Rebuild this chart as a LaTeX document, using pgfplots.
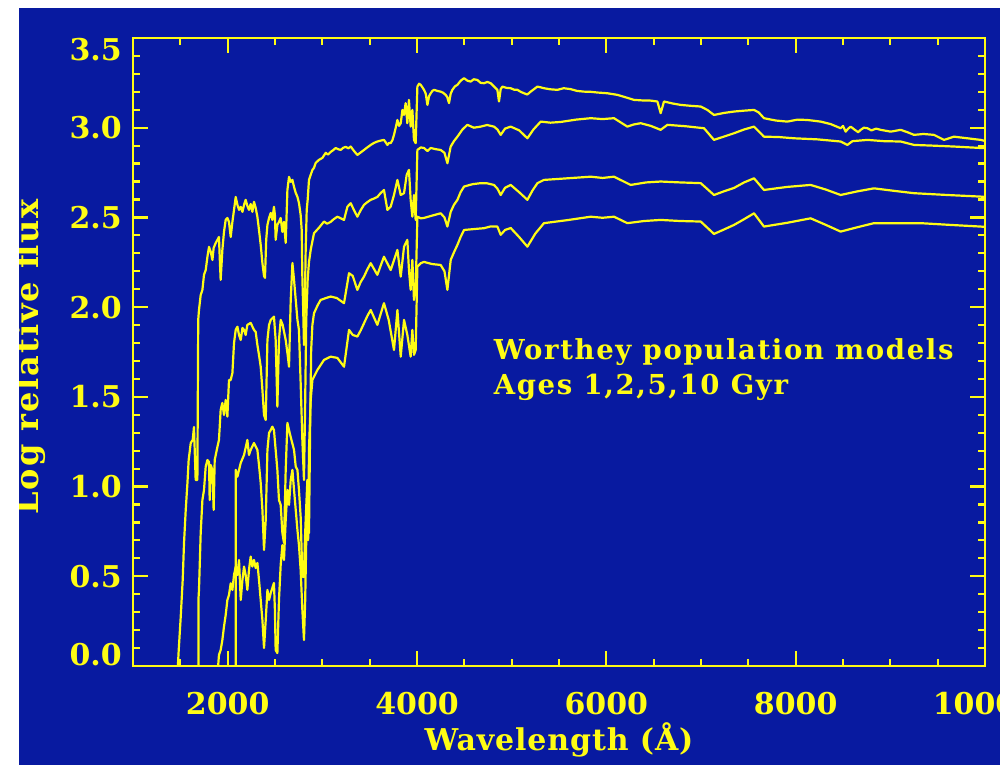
\documentclass[border=0pt]{standalone}
\usepackage{fontspec}
\setmainfont{DejaVu Serif}
\newfontfamily\spfont{DejaVu Serif}[LetterSpace=6]
\newfontfamily\ylfont{DejaVu Serif}[LetterSpace=6]
\newfontfamily\xlfont{DejaVu Serif}[LetterSpace=3]
\usepackage{pgfplots}
\pgfplotsset{compat=1.18}
\definecolor{bgblue}{RGB}{8,26,160}
\definecolor{ylw}{RGB}{255,252,20}
\newcommand\tfont{\bfseries\fontsize{30bp}{36bp}\selectfont}

\begin{document}
\begin{tikzpicture}[x=1bp,y=1bp]
\fill[white] (0,0) rectangle (1005,765);
\fill[bgblue] (19,0) rectangle (1000,757);
\begin{axis}[
  at={(133bp,99bp)}, anchor=south west,
  scale only axis, width=852bp, height=628bp,
  xmin=1000, xmax=10000, ymin=0, ymax=3.5,
  scaled x ticks=false, scaled y ticks=false,
  axis line style={ylw, line width=2.8bp},
  tick style={ylw, line width=2.2bp},
  major tick length=15bp, minor tick length=7bp,
  xtick={2000,4000,6000,8000,10000},
  xticklabels={2000,4000,6000,8000,\makebox[0pt]{10000}},
  minor xtick={1500,2500,3000,3500,4500,5000,5500,6500,7000,7500,8500,9000,9500},
  ytick={0,0.5,1,1.5,2,2.5,3,3.5},
  yticklabels={,0.5,1.0,1.5,2.0,2.5,3.0,},
  minor ytick={0.1,0.2,0.3,0.4,0.6,0.7,0.8,0.9,1.1,1.2,1.3,1.4,1.6,1.7,1.8,1.9,2.1,2.2,2.3,2.4,2.6,2.7,2.8,2.9,3.1,3.2,3.3,3.4},
  xticklabel style={font=\tfont, text=ylw, anchor=north, inner sep=0pt, yshift=-26bp},
  yticklabel style={font=\tfont, text=ylw, anchor=east, inner sep=0pt, xshift=-11bp},
  xlabel={Wavelength (Å)},
  ylabel={Log relative flux},
  xlabel style={font=\xlfont\tfont, text=ylw, at={(axis description cs:0.5,-0.134)}, anchor=base, inner sep=0pt},
  ylabel style={font=\ylfont\bfseries\fontsize{32bp}{38bp}\selectfont, text=ylw, at={(axis description cs:-0.1115,0.492)}, anchor=base, inner sep=0pt},
  clip mode=individual,
]
% 1 Gyr
\addplot[ylw, line width=2.2bp, line join=round] coordinates {
(1469,-0.05)(1483,0.089)(1504,0.273)(1525,0.480)(1539,0.686)(1557,0.870)(1575,1.020)(1588,1.148)(1610,1.243)(1631,1.260)(1644,1.332)(1662,1.037)(1680,1.037)(1689,1.929)(1697,1.984)(1715,2.068)(1733,2.096)(1750,2.180)(1768,2.207)(1789,2.291)(1803,2.336)(1821,2.308)(1839,2.263)(1852,2.330)(1874,2.358)(1892,2.375)(1908,2.391)(1918,2.252)(1926,2.152)(1944,2.319)(1961,2.419)(1979,2.486)(1997,2.497)(2014,2.475)(2032,2.391)(2050,2.475)(2067,2.542)(2085,2.614)(2103,2.570)(2120,2.542)(2138,2.559)(2156,2.531)(2173,2.570)(2190,2.598)(2208,2.564)(2225,2.542)(2243,2.575)(2261,2.531)(2278,2.587)(2296,2.553)(2314,2.503)(2331,2.430)(2349,2.347)(2367,2.246)(2384,2.174)(2394,2.163)(2407,2.375)(2420,2.458)(2437,2.497)(2455,2.525)(2472,2.486)(2489,2.559)(2499,2.514)(2507,2.375)(2525,2.458)(2542,2.475)(2560,2.497)(2578,2.419)(2595,2.475)(2613,2.358)(2631,2.653)(2648,2.726)(2666,2.698)(2684,2.709)(2701,2.670)(2719,2.637)(2737,2.614)(2753,2.581)(2771,2.514)(2782,2.430)(2789,2.168)(2798,1.984)(2806,1.789)(2816,2.040)(2824,2.319)(2835,2.542)(2845,2.598)(2859,2.709)(2877,2.737)(2895,2.765)(2912,2.776)(2930,2.804)(2965,2.821)(3001,2.832)(3036,2.860)(3060,2.850)(3088,2.865)(3115,2.875)(3141,2.887)(3168,2.880)(3194,2.876)(3220,2.888)(3247,2.893)(3275,2.885)(3300,2.895)(3335,2.870)(3370,2.848)(3405,2.862)(3440,2.876)(3475,2.890)(3511,2.904)(3545,2.915)(3581,2.923)(3615,2.928)(3651,2.932)(3670,2.918)(3687,2.904)(3705,2.915)(3722,2.914)(3740,2.930)(3757,2.960)(3775,3.000)(3793,3.043)(3810,3.010)(3828,3.025)(3846,3.099)(3863,3.071)(3880,3.137)(3898,3.025)(3915,3.155)(3933,3.006)(3951,3.099)(3968,2.932)(3986,2.914)(4004,3.229)(4022,3.245)(4039,3.239)(4057,3.225)(4074,3.211)(4092,3.190)(4110,3.127)(4127,3.175)(4145,3.192)(4162,3.205)(4180,3.211)(4215,3.205)(4250,3.201)(4275,3.195)(4303,3.183)(4320,3.170)(4338,3.137)(4356,3.190)(4374,3.211)(4400,3.230)(4427,3.239)(4462,3.262)(4497,3.276)(4532,3.262)(4567,3.257)(4600,3.270)(4638,3.266)(4672,3.250)(4708,3.248)(4743,3.255)(4778,3.248)(4813,3.230)(4849,3.211)(4866,3.146)(4884,3.215)(4902,3.229)(4945,3.222)(4990,3.220)(5025,3.212)(5061,3.211)(5095,3.200)(5130,3.192)(5165,3.185)(5201,3.201)(5236,3.215)(5272,3.229)(5306,3.225)(5341,3.220)(5410,3.214)(5483,3.211)(5550,3.220)(5623,3.215)(5690,3.205)(5764,3.201)(5835,3.200)(5906,3.196)(6010,3.192)(6117,3.183)(6200,3.170)(6292,3.155)(6380,3.152)(6468,3.151)(6539,3.146)(6574,3.081)(6609,3.146)(6700,3.135)(6785,3.127)(6890,3.122)(6997,3.118)(7067,3.099)(7137,3.071)(7240,3.082)(7348,3.090)(7455,3.095)(7560,3.099)(7610,3.085)(7665,3.053)(7790,3.040)(7912,3.034)(8020,3.045)(8124,3.043)(8264,3.034)(8370,3.020)(8475,2.997)(8500,3.010)(8528,2.978)(8555,2.995)(8581,3.006)(8620,2.990)(8660,2.975)(8687,2.988)(8720,3.000)(8758,2.997)(8800,2.985)(8850,2.995)(8898,2.988)(9004,2.978)(9109,2.988)(9180,2.975)(9250,2.960)(9350,2.965)(9461,2.960)(9567,2.932)(9672,2.950)(9814,2.941)(9954,2.932)(10000,2.926)
};
% 2 Gyr
\addplot[ylw, line width=2.2bp, line join=round] coordinates {
(1691,-0.05)(1691,0.368)(1697,0.424)(1715,0.741)(1733,0.925)(1750,0.981)(1768,1.111)(1786,1.148)(1803,1.137)(1810,0.925)(1821,1.120)(1839,1.092)(1852,0.870)(1863,1.148)(1892,1.222)(1908,1.260)(1926,1.427)(1944,1.466)(1961,1.399)(1979,1.483)(1997,1.390)(2014,1.594)(2032,1.594)(2050,1.633)(2067,1.800)(2085,1.873)(2103,1.891)(2120,1.845)(2138,1.817)(2156,1.884)(2173,1.873)(2190,1.845)(2208,1.901)(2243,1.912)(2278,1.873)(2296,1.862)(2314,1.789)(2331,1.733)(2349,1.668)(2367,1.539)(2384,1.399)(2402,1.371)(2420,1.817)(2437,1.901)(2455,1.929)(2489,1.947)(2507,1.817)(2525,1.445)(2542,1.817)(2560,1.929)(2581,1.901)(2613,1.817)(2634,1.733)(2648,1.668)(2666,2.040)(2684,2.246)(2701,2.152)(2719,2.040)(2737,1.929)(2753,1.873)(2771,1.577)(2789,1.260)(2806,1.037)(2819,1.483)(2830,1.929)(2845,2.152)(2859,2.252)(2877,2.319)(2912,2.412)(2962,2.441)(3018,2.477)(3050,2.465)(3088,2.475)(3120,2.490)(3159,2.504)(3195,2.495)(3229,2.486)(3265,2.560)(3300,2.579)(3335,2.540)(3370,2.504)(3405,2.540)(3440,2.570)(3475,2.585)(3511,2.598)(3545,2.605)(3581,2.614)(3615,2.635)(3651,2.653)(3687,2.542)(3722,2.560)(3757,2.625)(3793,2.709)(3828,2.625)(3863,2.635)(3891,2.737)(3915,2.765)(3933,2.598)(3951,2.504)(3968,2.625)(3986,2.486)(4004,2.876)(4040,2.890)(4074,2.887)(4110,2.870)(4145,2.887)(4200,2.880)(4250,2.876)(4290,2.860)(4321,2.802)(4356,2.895)(4390,2.925)(4427,2.950)(4480,2.990)(4532,3.016)(4600,3.000)(4673,3.006)(4740,3.015)(4813,3.006)(4850,2.990)(4884,2.960)(4930,2.995)(4990,3.006)(5080,2.985)(5166,2.941)(5230,2.990)(5307,3.034)(5410,3.028)(5518,3.032)(5680,3.045)(5835,3.053)(5960,3.048)(6081,3.053)(6222,3.006)(6290,3.018)(6363,3.025)(6470,3.010)(6574,2.988)(6645,3.016)(6840,3.008)(7032,2.997)(7137,2.932)(7240,2.950)(7348,2.969)(7455,2.990)(7560,3.006)(7665,2.950)(7820,2.948)(7982,2.941)(8230,2.935)(8475,2.923)(8546,2.904)(8600,2.925)(8758,2.932)(8930,2.925)(9109,2.923)(9250,2.904)(9450,2.900)(9672,2.895)(9954,2.887)(10000,2.887)
};
% 5 Gyr
\addplot[ylw, line width=2.2bp, line join=round] coordinates {
(2085,-0.05)(2085,1.093)(2103,1.055)(2138,1.132)(2173,1.176)(2208,1.260)(2225,1.176)(2243,1.204)(2278,1.243)(2314,1.204)(2331,1.120)(2349,1.020)(2367,0.870)(2384,0.647)(2402,0.814)(2420,1.204)(2437,1.299)(2455,1.315)(2472,1.334)(2489,1.315)(2507,1.204)(2525,1.093)(2542,0.925)(2560,0.898)(2578,0.741)(2595,0.686)(2613,1.093)(2631,1.355)(2648,1.315)(2666,1.276)(2701,1.204)(2719,1.111)(2737,1.093)(2753,0.981)(2771,0.832)(2789,0.498)(2806,0.496)(2816,0.702)(2824,0.814)(2842,1.037)(2859,0.741)(2872,1.371)(2882,1.761)(2895,1.901)(2912,1.966)(2950,2.010)(2982,2.040)(3035,2.050)(3088,2.059)(3152,2.051)(3229,2.022)(3282,2.189)(3321,2.174)(3370,2.096)(3405,2.140)(3440,2.170)(3475,2.210)(3511,2.245)(3581,2.180)(3651,2.281)(3722,2.207)(3793,2.319)(3828,2.170)(3863,2.337)(3898,2.375)(3915,2.207)(3933,2.096)(3951,2.263)(3968,2.040)(3986,2.096)(4004,2.504)(4040,2.495)(4074,2.497)(4160,2.510)(4250,2.523)(4290,2.500)(4321,2.449)(4356,2.531)(4390,2.570)(4427,2.598)(4460,2.640)(4497,2.672)(4585,2.685)(4673,2.691)(4740,2.690)(4813,2.681)(4850,2.660)(4884,2.625)(4930,2.665)(4990,2.681)(5080,2.640)(5166,2.598)(5220,2.650)(5272,2.691)(5341,2.709)(5590,2.718)(5835,2.727)(5960,2.720)(6081,2.727)(6257,2.681)(6420,2.695)(6574,2.700)(6780,2.695)(6997,2.691)(7137,2.625)(7240,2.645)(7348,2.664)(7455,2.695)(7560,2.718)(7665,2.653)(7910,2.670)(8158,2.681)(8320,2.655)(8475,2.625)(8650,2.645)(8827,2.662)(9040,2.648)(9250,2.635)(9600,2.625)(9954,2.616)(10000,2.614)
};
% 10 Gyr
\addplot[ylw, line width=2.2bp, line join=round] coordinates {
(1892,-0.05)(1908,0.061)(1926,0.089)(1944,0.145)(1961,0.219)(1979,0.284)(1997,0.368)(2014,0.396)(2032,0.461)(2050,0.424)(2067,0.507)(2085,0.554)(2103,0.507)(2120,0.591)(2138,0.368)(2156,0.480)(2173,0.554)(2190,0.507)(2208,0.424)(2225,0.535)(2243,0.610)(2261,0.554)(2278,0.591)(2296,0.546)(2314,0.574)(2331,0.480)(2349,0.368)(2367,0.256)(2384,0.100)(2402,0.256)(2420,0.424)(2437,0.368)(2455,0.407)(2472,0.435)(2489,0.463)(2499,0.312)(2507,0.089)(2525,0.072)(2542,0.368)(2560,0.563)(2578,0.674)(2595,0.591)(2613,0.814)(2631,0.981)(2648,0.898)(2666,1.037)(2684,1.093)(2701,0.981)(2719,0.870)(2737,0.758)(2753,0.674)(2771,0.535)(2789,0.312)(2806,0.145)(2819,0.368)(2830,0.702)(2842,0.925)(2850,0.702)(2859,1.204)(2877,1.483)(2895,1.594)(2948,1.650)(3018,1.706)(3088,1.724)(3159,1.717)(3229,1.668)(3282,1.873)(3321,1.845)(3370,1.836)(3405,1.870)(3440,1.910)(3475,1.950)(3511,1.984)(3581,1.901)(3651,2.022)(3701,1.929)(3757,1.761)(3793,1.984)(3828,1.724)(3863,1.929)(3898,1.845)(3933,1.724)(3951,1.873)(3968,1.734)(3986,1.761)(4004,2.226)(4040,2.245)(4074,2.252)(4160,2.240)(4250,2.235)(4290,2.200)(4321,2.096)(4356,2.263)(4390,2.305)(4427,2.347)(4460,2.390)(4497,2.430)(4600,2.435)(4708,2.440)(4780,2.450)(4849,2.449)(4884,2.403)(4930,2.430)(4990,2.441)(5080,2.390)(5166,2.337)(5250,2.410)(5341,2.468)(5590,2.485)(5835,2.504)(5960,2.498)(6081,2.504)(6222,2.468)(6400,2.480)(6574,2.486)(6780,2.480)(6997,2.477)(7137,2.408)(7240,2.432)(7348,2.458)(7455,2.490)(7560,2.523)(7665,2.449)(7910,2.470)(8158,2.495)(8320,2.458)(8475,2.421)(8650,2.445)(8827,2.468)(9320,2.468)(9640,2.458)(9954,2.449)(10000,2.447)
};
\node[anchor=base west, inner sep=0pt, text=ylw, font=\spfont\bfseries\fontsize{27.5bp}{33bp}\selectfont] at (axis cs:4810,1.706) {Worthey population models};
\node[anchor=base west, inner sep=0pt, text=ylw, font=\spfont\bfseries\fontsize{27.5bp}{33bp}\selectfont] at (axis cs:4810,1.511) {Ages 1,2,5,10 Gyr};
\node[anchor=south east, inner sep=0pt, xshift=-11bp, text=ylw, font=\tfont] at (rel axis cs:0,0) {0.0};
\node[anchor=north east, inner sep=0pt, xshift=-11bp, text=ylw, font=\tfont] at (rel axis cs:0,1) {3.5};
\end{axis}
\fill[white] (0,0) rectangle (19,765);
\fill[white] (0,757) rectangle (1005,765);
\fill[white] (1000,0) rectangle (1005,765);
\end{tikzpicture}
\end{document}
